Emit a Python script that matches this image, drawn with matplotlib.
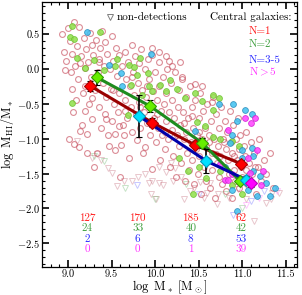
import matplotlib
matplotlib.use("Agg")
import matplotlib.pyplot as plt
import numpy as np

plt.rcParams['font.family'] = 'serif'
plt.rcParams['font.serif'] = ['cmr10', 'DejaVu Serif']
plt.rcParams['mathtext.fontset'] = 'cm'
plt.rcParams['axes.formatter.use_mathtext'] = True

# individual galaxies, N=1 (open circles)
n1_x = [8.93, 8.95, 8.96, 8.98, 9.00, 9.01, 9.02, 9.03, 9.04, 9.05, 9.07, 9.07, 9.08, 9.09, 9.10,
        9.11, 9.12, 9.13, 9.14, 9.15, 9.16, 9.17, 9.18, 9.19, 9.20, 9.21, 9.22, 9.22, 9.23, 9.24,
        9.25, 9.26, 9.27, 9.28, 9.29, 9.30, 9.31, 9.32, 9.33, 9.34, 9.35, 9.36, 9.37, 9.38, 9.39,
        9.40, 9.41, 9.42, 9.43, 9.44, 9.45, 9.46, 9.47, 9.48, 9.49, 9.50, 9.51, 9.52, 9.53, 9.54,
        9.54, 9.55, 9.56, 9.57, 9.58, 9.59, 9.60, 9.61, 9.62, 9.63, 9.64, 9.65, 9.66, 9.67, 9.68,
        9.69, 9.70, 9.71, 9.72, 9.73, 9.74, 9.75, 9.76, 9.77, 9.78, 9.79, 9.80, 9.81, 9.82, 9.83,
        9.84, 9.85, 9.86, 9.87, 9.88, 9.89, 9.90, 9.91, 9.92, 9.93, 9.94, 9.95, 9.96, 9.97, 9.98,
        9.99, 10.00, 10.01, 10.02, 10.03, 10.04, 10.05, 10.06, 10.07, 10.08, 10.09, 10.10, 10.11,
        10.12, 10.13, 10.14, 10.15, 10.16, 10.17, 10.18, 10.19, 10.20, 10.21, 10.22, 10.23, 10.24,
        10.25, 10.26, 10.27, 10.28, 10.29, 10.30, 10.31, 10.32, 10.33, 10.34, 10.35, 10.36, 10.37,
        10.38, 10.39, 10.40, 10.41, 10.42, 10.43, 10.44, 10.45, 10.46, 10.47, 10.48, 10.49, 10.50,
        10.51, 10.52, 10.53, 10.54, 10.55, 10.56, 10.57, 10.58, 10.59, 10.60, 10.61, 10.62, 10.63,
        10.64, 10.65, 10.66, 10.67, 10.68, 10.69, 10.70, 10.71, 10.72, 10.73, 10.74, 10.75, 10.76,
        10.77, 10.78, 10.79, 10.80, 10.81, 10.82, 10.83, 10.84, 10.85, 10.86, 10.87, 10.88, 10.89,
        10.90, 10.91, 10.92, 10.93, 10.94, 10.95, 10.96, 10.97, 10.98, 10.99, 11.00, 11.02, 11.03,
        11.05, 11.06, 11.08, 11.10, 11.12, 11.14, 11.16, 11.18, 11.20, 11.22, 11.25, 11.28, 11.32,
        11.35, 10.29, 10.31, 10.16, 10.46, 10.54, 10.65, 10.05, 10.12, 9.97, 10.20,
        9.06, 9.14, 9.19, 9.28, 9.36, 9.44, 9.52, 9.58, 9.66, 9.74, 9.83, 9.91, 10.02, 10.11,
        10.22, 10.33, 10.43, 10.51, 10.62, 10.70, 10.79, 10.91, 11.04, 11.15]
n1_y = [0.50, 0.25, -0.02, 0.12, 0.59, -1.00, 0.40, -0.05, 0.22, -0.28, 0.67, -1.08, 0.05, -0.45, 0.33,
        -0.15, -1.12, 0.60, -0.89, 0.18, -0.80, -0.35, 0.45, 0.02, -0.60, 0.28, -0.93, -1.20, 0.10, -0.50,
        0.52, -0.12, 0.35, -0.72, 0.20, -1.40, -0.30, 0.42, -1.20, -0.05, 0.15, -0.55, 0.30, -0.85, 0.55,
        -0.20, 0.05, -0.65, 0.38, -0.40, 0.22, -0.95, -1.11, 0.00, -0.28, 0.48, -0.75, 0.12, -0.50, -0.93,
        -1.16, 0.30, -0.10, -0.62, 0.20, -0.35, -1.55, -1.09, 0.05, -0.80, -0.95, 0.25, -0.45, -0.15, -0.70,
        0.10, -1.28, -0.25, -0.55, 0.35, -0.90, -0.05, -0.38, 0.18, -0.65, -1.02, -0.20, 0.08, -0.48, -0.85,
        0.28, -0.30, -1.20, -0.62, 0.00, -1.12, -0.40, -0.78, 0.15, -0.15, -0.95, -0.55, 0.20, -1.43, -0.32,
        -0.70, -0.05, -1.05, -0.45, -0.85, 0.10, -0.25, -1.30, -0.60, -0.95, -0.12, -0.50, -1.15,
        -0.75, -0.35, 0.00, -1.00, -0.62, -1.40, -0.20, -0.88, -0.45, -1.25, -0.70, -0.05, -1.55,
        -0.95, -0.55, -0.30, -1.10, -0.80, -1.35, -0.15, -0.62, -1.00, -1.60, -0.40, -0.90, -1.20,
        -0.70, -1.45, -0.25, -1.05, -0.55, -1.30, -0.85, -1.65, -0.45, -1.15, -0.95, -1.50, -0.70,
        -1.25, -0.35, -1.80, -1.00, -0.60, -1.40, -0.85, -1.60, -1.10, -0.50, -1.30, -0.95, -1.70,
        -0.75, -1.20, -1.45, -0.40, -1.00, -1.85, -0.65, -1.35, -1.10, -1.55, -0.85, -1.25, -0.55,
        -1.65, -1.00, -1.40, -0.75, -1.15, -1.75, -0.90, -1.30, -1.50, -0.60, -1.05, -1.85, -1.20,
        -0.80, -1.45, -1.60, -1.00, -1.30, -0.70, -1.15, -1.70, -0.95, -1.40, -1.55, -1.10, -1.25,
        -0.90, -1.65, -1.35, -1.05, -1.50, -1.20, -1.80, -1.40, -1.00, -1.60, -1.30, -1.50, -1.20,
        -1.70, 0.10, -0.12, 0.11, -0.21, -0.24, -0.47, 0.25, 0.18, 0.30, 0.05,
        -0.62, 0.08, -0.25, -0.42, 0.10, -0.72, -0.30, -0.82, -0.60, -0.12, -0.55, -0.25, -0.65, -0.90,
        -0.98, -0.78, -0.68, -0.90, -1.05, -1.22, -1.05, -1.25, -1.45, -1.40]

# N=2 (green filled)
n2_x = [9.04, 9.02, 9.07, 9.37, 9.10, 9.20, 9.30, 9.56, 9.54, 9.70, 9.76, 9.83, 9.41, 9.79, 9.92,
        9.72, 9.93, 9.97, 9.05, 9.85, 10.06, 10.12, 10.17, 10.25, 10.34, 10.46, 10.54, 10.67, 10.73,
        10.67, 10.48, 10.57, 10.67, 10.75, 10.88, 10.96, 10.38, 10.50, 10.75, 10.88, 11.00, 10.44,
        10.59, 10.27, 9.69]
n2_y = [0.62, 0.46, 0.43, 0.53, 0.16, 0.02, 0.13, 0.14, 0.05, 0.06, 0.03, 0.16, -0.01, -0.08, -0.06,
        -0.23, -0.25, -0.31, -0.49, -0.38, -0.23, -0.32, -0.16, -0.29, -0.42, -0.35, -0.46, -0.37, -0.41,
        -0.59, -0.76, -0.82, -0.97, -1.00, -1.04, -1.11, -1.47, -1.40, -1.47, -1.66, -1.80, -1.80,
        -1.56, -1.28, -0.66]

# N=3-5 (cyan filled)
n35_x = [9.22, 9.95, 9.47, 9.61, 9.62, 10.90, 10.74, 11.03, 11.11, 10.46, 10.94, 10.88, 10.86, 11.00,
         11.11, 11.00, 11.13, 10.80, 11.13, 11.21, 11.38, 11.17, 10.94, 11.32, 11.28, 11.07, 10.88]
n35_y = [0.53, 0.22, 0.06, -0.06, -0.25, -0.50, -0.50, -0.59, -0.65, -0.89, -0.74, -0.94, -1.06, -1.16,
         -1.13, -1.28, -1.25, -1.40, -1.47, -1.54, -1.70, -1.82, -2.04, -1.82, -1.63, -1.73, -1.73]

# N>5 (magenta filled)
n5_x = [11.03, 10.84, 11.17, 11.07, 10.75, 10.80, 11.24, 11.09, 11.15, 11.10, 10.84, 10.89, 11.22]
n5_y = [-0.70, -0.87, -1.16, -1.28, -1.36, -1.59, -1.47, -1.49, -0.70, -0.78, -1.59, -1.51, -1.66]

# non-detections (upper limits)
nd1_x = [9.10, 9.27, 9.33, 9.46, 9.51, 9.56, 9.64, 9.74, 9.89, 9.93, 9.95, 10.04, 10.09, 10.23,
         10.21, 10.40, 10.71, 10.56, 11.05, 11.28, 11.42, 10.33, 10.63, 11.34, 10.01, 11.33, 11.14,
         10.72, 9.97, 10.05, 10.12, 10.18, 10.30, 10.45, 10.52, 10.85, 10.95, 9.80, 9.38, 10.60]
nd1_y = [-1.03, -1.27, -1.22, -1.42, -1.49, -1.68, -1.61, -1.61, -1.50, -1.63, -1.79, -1.63, -1.66, -1.42,
         -1.61, -1.75, -1.94, -1.85, -1.87, -1.92, -1.78, -1.87, -1.63, -1.78, -1.87, -1.87, -2.18,
         -1.80, -1.61, -1.40, -1.48, -1.35, -1.55, -1.70, -1.62, -1.85, -1.72, -1.55, -1.30, -1.78]
nd2_x = [9.41, 10.00, 9.66, 10.35, 10.80, 11.00, 9.30]
nd2_y = [-1.32, -1.87, -1.70, -1.65, -1.80, -2.00, -1.25]
nd35_x = [9.79, 10.50, 11.10, 11.25, 10.90]
nd35_y = [-1.66, -1.80, -1.90, -1.75, -2.10]
nd5_x = [11.20, 11.40, 11.05]
nd5_y = [-1.85, -1.75, -1.95]

# binned means
red_x = [9.25, 9.97, 10.46, 10.99]
red_y = [-0.24, -0.77, -1.09, -1.36]
red_err = [0.07, 0.06, 0.05, 0.05]
green_x = [9.33, 9.94, 10.54, 10.98]
green_y = [-0.12, -0.53, -1.06, -1.61]
green_err = [0.11, 0.09, 0.07, 0.04]
blue_x = [9.82, 10.59, 11.05]
blue_y = [-0.68, -1.32, -1.59]
blue_err = [0.30, 0.17, 0.06]
mag_x = [11.10]
mag_y = [-1.64]
mag_err = [0.05]

bin_x = [9.22, 9.80, 10.41, 10.99]
cnt_n1 = [127, 170, 185, 62]
cnt_n2 = [24, 33, 40, 42]
cnt_n35 = [2, 6, 8, 53]
cnt_n5 = [0, 0, 1, 39]

c_red = '#ff1a1a'
c_green = '#3f9f3f'
c_blue = '#2a2aff'
c_mag = '#ff33ff'

fig = plt.figure(figsize=(3.02, 2.95), dpi=100)
ax = fig.add_axes([0.139, 0.095, 0.844, 0.898])

for xs, ys, col in [(nd1_x, nd1_y, '#c06070'), (nd2_x, nd2_y, '#60b060'),
                    (nd35_x, nd35_y, '#6060ff'), (nd5_x, nd5_y, '#ff60ff')]:
    ax.plot(xs, ys, 'v', ms=4.5, mfc='none', mec=col, mew=0.7, alpha=0.35, ls='none')

ax.plot(n1_x, n1_y, 'o', ms=4.2, mfc='none', mec='#c8505f', mew=0.8, alpha=0.65, ls='none')
ax.plot(n2_x, n2_y, 'o', ms=4.2, mfc='#8ee04a', mec='#6cc030', mew=0.6, alpha=0.85, ls='none')
ax.plot(n35_x, n35_y, 'o', ms=4.2, mfc='#3ec0f0', mec='#2a8ab8', mew=0.6, alpha=0.85, ls='none')
ax.plot(n5_x, n5_y, 'o', ms=4.2, mfc='#ff40ff', mec='#d020d0', mew=0.6, alpha=0.85, ls='none')

ax.plot(red_x, red_y, '-', color='#990000', lw=2.2)
ax.errorbar(red_x, red_y, yerr=red_err, fmt='D', ms=6.3, mfc='red', mec='#aa0000', mew=0.8,
            ecolor='black', elinewidth=1.2, capsize=2)
ax.plot(green_x, green_y, '-', color='#1e8c1e', lw=2.2)
ax.errorbar(green_x, green_y, yerr=green_err, fmt='D', ms=6.3, mfc='#66ee00', mec='#339900', mew=0.8,
            ecolor='black', elinewidth=1.2, capsize=2)
ax.plot(blue_x, blue_y, '-', color='#0000aa', lw=2.2)
ax.errorbar(blue_x, blue_y, yerr=blue_err, fmt='D', ms=6.3, mfc='#00e0ff', mec='#0099bb', mew=0.8,
            ecolor='black', elinewidth=1.2, capsize=2)
ax.errorbar(mag_x, mag_y, yerr=mag_err, fmt='D', ms=6.3, mfc='#ff00ff', mec='#bb00bb', mew=0.8,
            ecolor='black', elinewidth=1.2, capsize=2)

for i in range(len(bin_x)):
    ax.text(bin_x[i], -2.14, str(cnt_n1[i]), color=c_red, ha='center', va='center', fontsize=8)
    ax.text(bin_x[i], -2.29, str(cnt_n2[i]), color=c_green, ha='center', va='center', fontsize=8)
    ax.text(bin_x[i], -2.44, str(cnt_n35[i]), color=c_blue, ha='center', va='center', fontsize=8)
    ax.text(bin_x[i], -2.59, str(cnt_n5[i]), color=c_mag, ha='center', va='center', fontsize=8)

# legend-like texts
ax.plot([0.267], [0.943], 'v', ms=4, mfc='none', mec='gray', mew=0.7, transform=ax.transAxes)
ax.text(0.293, 0.943, 'non-detections', transform=ax.transAxes, ha='left', va='center', fontsize=8)
ax.text(0.979, 0.943, 'Central galaxies:', transform=ax.transAxes, ha='right', va='center', fontsize=8)
ax.text(0.812, 0.891, 'N=1', transform=ax.transAxes, color=c_red, ha='left', va='center', fontsize=8)
ax.text(0.812, 0.842, 'N=2', transform=ax.transAxes, color=c_green, ha='left', va='center', fontsize=8)
ax.text(0.812, 0.781, 'N=3-5', transform=ax.transAxes, color=c_blue, ha='left', va='center', fontsize=8)
ax.text(0.812, 0.736, r'N$>$5', transform=ax.transAxes, color=c_mag, ha='left', va='center', fontsize=8)

ax.set_xlim(8.7, 11.63)
ax.set_ylim(-2.84, 0.96)
ax.set_xticks([9.0, 9.5, 10.0, 10.5, 11.0, 11.5])
ax.set_yticks([-2.5, -2.0, -1.5, -1.0, -0.5, 0.0, 0.5])
ax.set_xticks(np.arange(8.8, 11.65, 0.1), minor=True)
ax.set_yticks(np.arange(-2.8, 0.95, 0.1), minor=True)
ax.tick_params(which='both', direction='in', top=True, right=True, labelsize=7.5, pad=1.5)
ax.tick_params(which='major', length=5, width=1.2)
ax.tick_params(which='minor', length=2.5, width=0.8)
ax.set_xticklabels(['9.0', '9.5', '10.0', '10.5', '11.0', '11.5'])
ax.set_yticklabels([r'$-2.5$', r'$-2.0$', r'$-1.5$', r'$-1.0$', r'$-0.5$', '0.0', '0.5'])
for s in ax.spines.values():
    s.set_linewidth(0.9)

ax.set_xlabel(r'$\log\ \mathrm{M_*\ [M_\odot]}$', fontsize=9)
ax.set_ylabel(r'$\log\ \mathrm{M_{HI}/M_*}$', fontsize=9)
ax.xaxis.set_label_coords(0.5, -0.042)
ax.yaxis.set_label_coords(-0.1, 0.5)

fig.savefig('out.png', dpi=100)
